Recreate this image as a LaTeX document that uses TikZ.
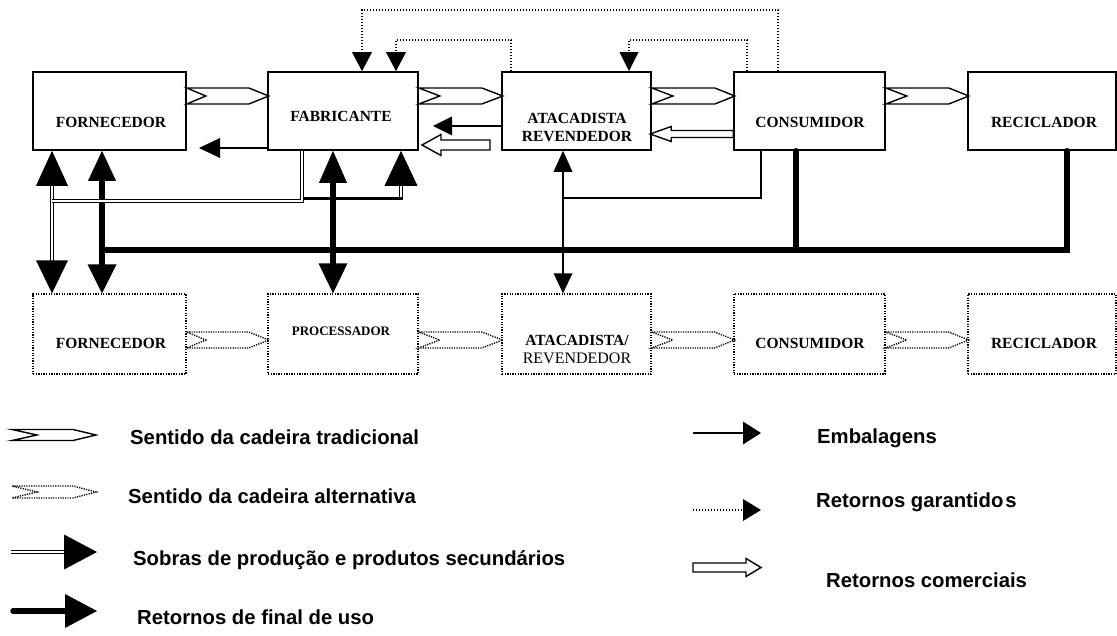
\documentclass[tikz,border=0pt]{standalone}
\usepackage{fontspec}
\setmainfont{Liberation Serif}
\newfontfamily\arialf{Liberation Sans}
\usetikzlibrary{calc}
\begin{document}
\begin{tikzpicture}[x=1pt,y=-1pt,
  box/.style={draw,line width=1.6pt,inner sep=0pt},
  dbox/.style={draw,line width=1.4pt,dash pattern=on 1.3pt off 1.3pt,inner sep=0pt},
  btxt/.style={font=\fontsize{15.5}{18}\selectfont\bfseries,inner sep=0pt,align=center},
  ltxt/.style={font=\arialf\fontsize{20.3}{22}\selectfont\bfseries,inner sep=0pt,anchor=base west},
  emb/.style={line width=1.5pt},
  gar/.style={line width=1.4pt,dash pattern=on 1.4pt off 1.6pt},
  thk/.style={line width=5.5pt},
  sob/.style={double,double distance=1.4pt,line width=1.1pt},
  pics/chev/.style n args={4}{code={\draw[line width=1.4pt,line join=miter] (0,-#2) -- (#1-#4,-#2) -- (#1,0) -- (#1-#4,#2) -- (0,#2) -- (#3,0) -- cycle;}},
  pics/hollow/.style n args={4}{code={\draw[line width=1.4pt,fill=white,line join=miter] (0,-#2) -- (#1-#4,-#2) -- (#1-#4,-#3) -- (#1,0) -- (#1-#4,#3) -- (#1-#4,#2) -- (0,#2) -- cycle;}},
  pics/tipD/.style 2 args={code={\fill (0,0) -- (-#1/2,-#2) -- (#1/2,-#2) -- cycle;}},
  pics/tipU/.style 2 args={code={\fill (0,0) -- (-#1/2,#2) -- (#1/2,#2) -- cycle;}},
  pics/tipL/.style 2 args={code={\fill (0,0) -- (#2,-#1/2) -- (#2,#1/2) -- cycle;}},
  pics/tipR/.style 2 args={code={\fill (0,0) -- (-#2,-#1/2) -- (-#2,#1/2) -- cycle;}},
]
\useasboundingbox (0,0) rectangle (1117,636);

% ---------- boxes ----------
\node[box,minimum width=153pt,minimum height=78pt] (fornT) at (109.5,111) {};
\node[box,minimum width=150pt,minimum height=78pt] (fabT) at (343,111) {};
\node[box,minimum width=149pt,minimum height=78pt] (ataT) at (576.5,111) {};
\node[box,minimum width=151pt,minimum height=78pt] (conT) at (809.5,111) {};
\node[box,minimum width=148pt,minimum height=78pt] (recT) at (1042,111) {};

\node[dbox,minimum width=153pt,minimum height=80pt] (fornB) at (109.5,334) {};
\node[dbox,minimum width=150pt,minimum height=80pt] (procB) at (343,334) {};
\node[dbox,minimum width=149pt,minimum height=80pt] (ataB) at (576.5,334) {};
\node[dbox,minimum width=151pt,minimum height=80pt] (conB) at (809.5,334) {};
\node[dbox,minimum width=148pt,minimum height=80pt] (recB) at (1042,334) {};

% ---------- box texts ----------
\node[btxt] (tF1) at (111,122) {FORNECEDOR};
\node[btxt] (tF2) at (341,116) {FABRICANTE};
\node[btxt] (tF3) at (577,127) {ATACADISTA\\REVENDEDOR};
\node[btxt] (tF4) at (810,122) {CONSUMIDOR};
\node[btxt] (tF5) at (1044,122) {RECICLADOR};
\node[btxt] (tB1) at (111,343.5) {FORNECEDOR};
\node[btxt,font=\fontsize{13}{15}\selectfont\bfseries] (tB2) at (341,331) {PROCESSADOR};
\node[btxt] (tB3) at (577,349) {ATACADISTA/\\\mdseries\fontsize{16}{18}\selectfont REVENDEDOR};
\node[btxt] (tB4) at (810,343) {CONSUMIDOR};
\node[btxt] (tB5) at (1044,343) {RECICLADOR};

% ---------- chains ----------
\pic at ($(fornT.east)+(0,-15)$) {chev={82}{8}{19}{20}};
\pic at ($(fabT.east)+(0,-15)$) {chev={84}{8}{21}{21}};
\pic at ($(ataT.east)+(0,-15)$) {chev={83}{8}{21}{20}};
\pic at ($(conT.east)+(0,-15)$) {chev={83}{8}{21}{20}};

\pic[dash pattern=on 1.2pt off 1.2pt] at ($(fornB.east)+(0,6)$) {chev={82}{8}{19}{20}};
\pic[dash pattern=on 1.2pt off 1.2pt] at ($(procB.east)+(0,6)$) {chev={84}{8}{21}{21}};
\pic[dash pattern=on 1.2pt off 1.2pt] at ($(ataB.east)+(0,6)$) {chev={83}{8}{21}{20}};
\pic[dash pattern=on 1.2pt off 1.2pt] at ($(conB.east)+(0,6)$) {chev={83}{8}{21}{20}};

% ---------- coordinates ----------
\coordinate (g1) at (778,10);
\coordinate (g2) at (362,10);
\coordinate (g3) at (747,40);
\coordinate (g4) at (629,40);
\coordinate (g5) at (511,40);
\coordinate (g6) at (396,40);
\coordinate (e1) at (199,148);
\coordinate (e2) at (433,126);
\coordinate (e3) at (761,198);
\coordinate (e4) at (563,198);
\coordinate (r1) at (102,250);
\coordinate (r2) at (1067,250);
\coordinate (r3) at (796,250);
\coordinate (p1) at (333,250);
\coordinate (s1) at (302,201);
\coordinate (s2) at (52,201);
\coordinate (s3) at (303,198.5);
\coordinate (s4) at (401,198.5);
\coordinate (c1) at (490,145);
\coordinate (c2) at (734,134);

% ---------- retornos garantidos ----------
\draw[gar,shorten >=17pt] (conT.north -| g1) -- (g1) -- (g2) -- (fabT.north -| g2);
\pic at (fabT.north -| g2) {tipD={20}{19}};
\draw[gar,shorten >=17pt] (conT.north -| g3) -- (g3) -- (g4) -- (ataT.north -| g4);
\pic at (ataT.north -| g4) {tipD={19}{19}};
\draw[gar,shorten >=17pt] (ataT.north -| g5) -- (g5) -- (g6) -- (fabT.north -| g6);
\pic at (fabT.north -| g6) {tipD={20}{19}};

% ---------- embalagens ----------
\draw[emb,shorten >=18pt] (fabT.west |- e1) -- (e1);
\pic at (e1) {tipL={20}{21}};
\draw[emb,shorten >=17pt] (ataT.west |- e2) -- (e2);
\pic at (e2) {tipL={19}{19}};
\draw[emb] (conT.south -| e3) -- (e3) -- (e4);
\draw[emb,shorten <=18pt,shorten >=18pt] (ataT.south -| e4) -- (ataB.north -| e4);
\pic at (ataT.south -| e4) {tipU={19}{21}};
\pic at (ataB.north -| e4) {tipD={19}{20}};

% ---------- retornos de final de uso ----------
\draw[thk,shorten <=25pt,shorten >=25pt] (fornT.south -| r1) -- (fornB.north -| r1);
\pic at (fornT.south -| r1) {tipU={28}{30}};
\pic at (fornB.north -| r1) {tipD={29}{29}};
\draw[thk,line cap=round] (recT.south -| r2) -- (r2) -- (r1);
\draw[thk,line cap=round] (conT.south -| r3) -- (r3);
\draw[thk,shorten <=26pt,shorten >=25pt] (fabT.south -| p1) -- (procB.north -| p1);
\pic at (fabT.south -| p1) {tipU={28}{32}};
\pic at (procB.north -| p1) {tipD={29}{30}};

% ---------- sobras ----------
\draw[sob,shorten <=30pt,shorten >=28pt] (fornT.south -| s2) -- (fornB.north -| s2);
\pic at (fornT.south -| s2) {tipU={32}{35}};
\pic at (fornB.north -| s2) {tipD={32}{33}};
\draw[sob] (fabT.south -| s1) -- (s1) -- (s2);
\draw[sob,shorten >=30pt] (s4) -- (fabT.south -| s4);
\pic at (fabT.south -| s4) {tipU={33}{35}};
\draw[line width=3pt] (s3) -- ($(s4)+(1.9,0)$);

% ---------- retornos comerciais ----------
\pic[rotate=180] at (c1) {hollow={68}{5}{10.5}{19}};
\pic[rotate=180] at (conT.west |- c2) {hollow={83}{3.5}{7.5}{21}};

% ---------- legend ----------
\pic at (12,435) {chev={84}{5.5}{25}{23}};
\pic[dash pattern=on 1.2pt off 1.2pt] at (12,492) {chev={84}{6}{25}{23}};
\draw[sob] (11,552) -- (66,552);
\pic at (97,552) {tipR={35}{33}};
\draw[thk,line cap=round] (13,611) -- (66,611);
\pic at (97,611) {tipR={34}{32}};
\draw[emb] (693,433) -- (745,433);
\pic at (761,433) {tipR={23}{18}};
\draw[gar] (693,510) -- (745,510);
\pic at (761,510) {tipR={22}{18}};
\pic at (693,567.5) {hollow={68}{4.5}{9}{15}};

\node[ltxt] (l1) at (130,444) {Sentido da cadeira tradicional};
\node[ltxt] (l2) at (128,503) {Sentido da cadeira alternativa};
\node[ltxt] (l3) at (133,565) {Sobras de produção e produtos secundários};
\node[ltxt] (l4) at (137,624) {Retornos de final de uso};
\node[ltxt] (l5) at (817,443) {Embalagens};
\node[ltxt] (l6) at (816,507) {Retornos garantido\kern2pt s};
\node[ltxt] (l7) at (826,587) {Retornos comerciais};
\end{tikzpicture}
\end{document}
